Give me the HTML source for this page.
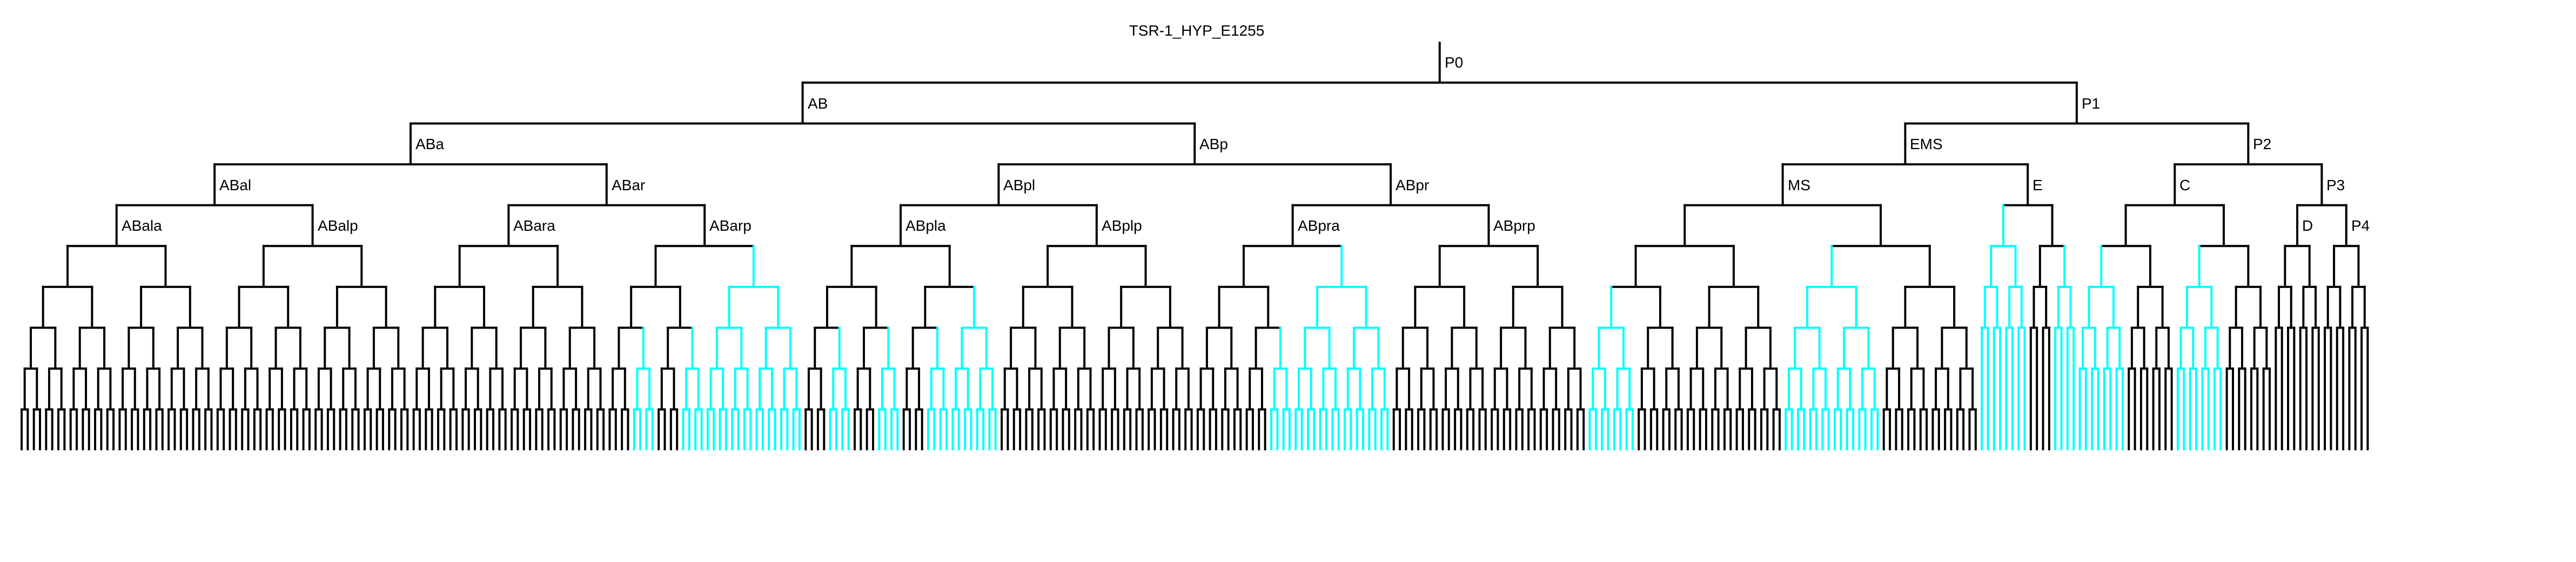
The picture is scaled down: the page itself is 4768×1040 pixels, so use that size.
<!DOCTYPE html>
<html><head><meta charset="utf-8"><style>
html,body{margin:0;padding:0;background:#fff;}
svg{display:block;}
text{font-family:"Liberation Sans",sans-serif;font-size:28px;fill:#000;}
</style></head><body>
<svg id="s" xmlns="http://www.w3.org/2000/svg" width="4768" height="1040" viewBox="0 0 4768 1040">
<rect width="4768" height="1040" fill="#fff"/>
<g id="lines"></g>
<g id="labels">
<text x="2215" y="66" text-anchor="middle">TSR-1_HYP_E1255</text>
<text x="2674" y="125">P0</text>
<text x="1495" y="201">AB</text>
<text x="3853" y="201">P1</text>
<text x="769" y="276">ABa</text>
<text x="2220" y="276">ABp</text>
<text x="3535" y="276">EMS</text>
<text x="4170" y="276">P2</text>
<text x="406" y="352">ABal</text>
<text x="1132" y="352">ABar</text>
<text x="1857" y="352">ABpl</text>
<text x="2583" y="352">ABpr</text>
<text x="3309" y="352">MS</text>
<text x="3762" y="352">E</text>
<text x="4034" y="352">C</text>
<text x="4306" y="352">P3</text>
<text x="225" y="427">ABala</text>
<text x="588" y="427">ABalp</text>
<text x="950" y="427">ABara</text>
<text x="1313" y="427">ABarp</text>
<text x="1676" y="427">ABpla</text>
<text x="2039" y="427">ABplp</text>
<text x="2402" y="427">ABpra</text>
<text x="2764" y="427">ABprp</text>
<text x="4261" y="427">D</text>
<text x="4352" y="427">P4</text>
</g>
</svg>
<script>
(function(){
var S=11.338,X0=40;
function Y(k){return 77.3+75.6*k;}
var cy=[[100,103],[108,127],[132,135],[140,143],[148,159],[204,223],[256,263],[288,303],[320,327],[332,335],[336,343],[352,359]];
function isC(i){for(var j=0;j<cy.length;j++)if(i>=cy[j][0]&&i<=cy[j][1])return true;return false;}
function full(h){return h==0?{c:[]}:{c:[full(h-1),full(h-1)]};}
var tree={c:[full(8),{c:[{c:[full(6),full(4)]},{c:[full(5),{c:[full(3),full(3)]}]}]}]};
var idx=0;
function assign(n,d){n.d=d;if(n.c.length==0){n.x=X0+S*idx;n.cy=isC(idx);idx++;return;}
assign(n.c[0],d+1);assign(n.c[1],d+1);n.x=(n.c[0].x+n.c[1].x)/2;n.cy=n.c[0].cy&&n.c[1].cy;}
assign(tree,0);
var H=[],V=[];
function draw(n){var col=n.cy?"#00ffff":"#000000";var leaf=n.c.length==0;
var y1=Y(n.d)-(n.d==0?0:2),y2=leaf?Y(10):Y(n.d+1);
V.push('<line x1="'+n.x.toFixed(2)+'" y1="'+y1.toFixed(2)+'" x2="'+n.x.toFixed(2)+'" y2="'+y2.toFixed(2)+'" stroke="'+col+'" stroke-width="4"/>');
if(!leaf){var yb=Y(n.d+1);
H.push('<line x1="'+n.c[0].x.toFixed(2)+'" y1="'+yb.toFixed(2)+'" x2="'+n.c[1].x.toFixed(2)+'" y2="'+yb.toFixed(2)+'" stroke="'+col+'" stroke-width="4" stroke-linecap="square"/>');
draw(n.c[0]);draw(n.c[1]);}}
draw(tree);
document.getElementById("lines").innerHTML=H.join("")+V.join("");
})();
</script>
</body></html>
